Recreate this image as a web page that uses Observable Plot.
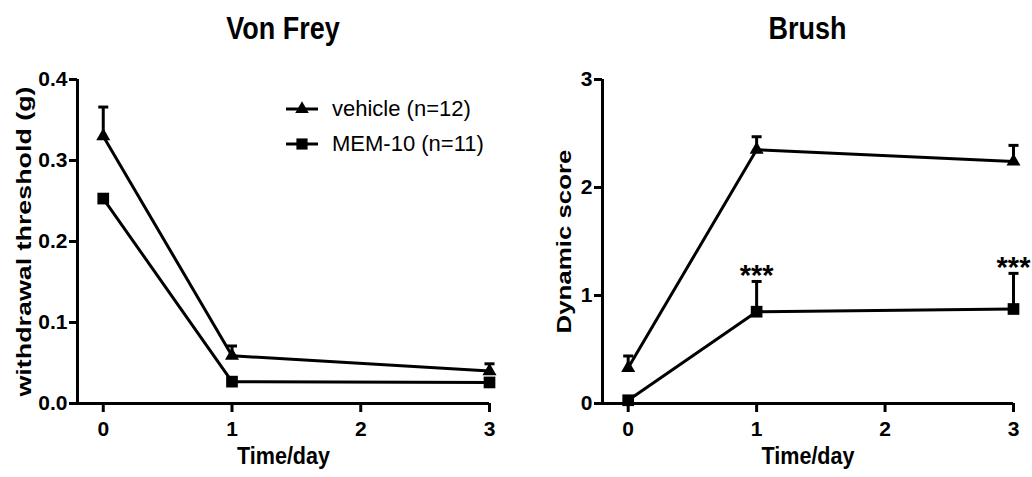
<!DOCTYPE html>
<html><head><meta charset="utf-8">
<script src="https://cdn.jsdelivr.net/npm/d3@7"></script>
<script src="https://cdn.jsdelivr.net/npm/@observablehq/plot@0.6"></script>
<style>
body{margin:0;background:#fff;}
#wrap{position:relative;width:1032px;height:477px;background:#fff;font-family:"Liberation Sans",Arial,Helvetica,sans-serif;color:#000;overflow:hidden}
.title{position:absolute;top:12px;text-align:center;font-weight:bold;font-size:31px;line-height:34px;transform:scaleX(0.87)}
.panel{position:absolute;top:55px}
#legend{position:absolute;left:286px;top:91px;font-size:22px}
.row{display:flex;align-items:center;height:35px}
.row svg{margin-right:14px}
</style></head>
<body><div id="wrap">
<div class="title" style="left:77px;width:412px">Von Frey</div>
<div class="title" style="left:602px;width:411px">Brush</div>
<div class="panel" id="left" style="left:0"></div>
<div class="panel" id="right" style="left:516px"></div>
<div id="legend"></div>
</div>
<script>
const days = [0, 1, 3];
const xTicks = [0, 1, 2, 3];
const xLabel = "Time/day";
const seriesNames = ["vehicle (n=12)", "MEM-10 (n=11)"];

const vfYLabel = "withdrawal threshold (g)";
const vfTicks = [0, 0.1, 0.2, 0.3, 0.4];
const vfVehicle = [0.33, 0.059, 0.04];
const vfVehicleSem = [0.036, 0.012, 0.009];
const vfMem = [0.253, 0.027, 0.026];
const vfMemSem = [0.005, 0.003, 0.003];

const brYLabel = "Dynamic score";
const brTicks = [0, 1, 2, 3];
const brVehicle = [0.33, 2.35, 2.24];
const brVehicleSem = [0.11, 0.12, 0.15];
const brMem = [0.03, 0.85, 0.875];
const brMemSem = [0.03, 0.28, 0.33];
const brStars = ["", "***", "***"];

const FONT = "'Liberation Sans', Arial, Helvetica, sans-serif";
const cap = {draw(ctx) { ctx.moveTo(-5, 0); ctx.lineTo(5, 0); }};

function fitText(svg, content, length) {
  d3.select(svg).selectAll("text")
    .filter(function() { return this.textContent === content; })
    .attr("textLength", length).attr("lengthAdjust", "spacingAndGlyphs");
}

function panel(o) {
  const rows = [];
  days.forEach((d, i) => {
    rows.push({day: d, series: seriesNames[0], sym: "triangle", mean: o.vehicle[i], upper: o.vehicle[i] + o.vehicleSem[i], star: ""});
    rows.push({day: d, series: seriesNames[1], sym: "square", mean: o.mem[i], upper: o.mem[i] + o.memSem[i], star: o.stars ? o.stars[i] : ""});
  });
  const svg = Plot.plot({
    width: 516, height: 422,
    marginLeft: o.marginLeft, marginRight: o.marginRight, marginTop: 24, marginBottom: 74,
    x: {domain: o.xDomain},
    y: {domain: [o.yTicks[0], o.yTicks[o.yTicks.length - 1]]},
    style: {fontFamily: FONT, fontWeight: "bold", fontSize: "21px", color: "black", background: "white", overflow: "visible"},
    marks: [
      Plot.ruleY([o.yTicks[0]], {strokeWidth: 3, stroke: "black"}),
      Plot.ruleX([o.xDomain[0]], {strokeWidth: 3, stroke: "black"}),
      Plot.axisX({ticks: xTicks, tickFormat: d3.format("d"), tickSize: 9, tickPadding: 9, strokeWidth: 3, fontSize: 21, fontWeight: "bold", label: null}),
      Plot.axisY({ticks: o.yTicks, tickFormat: o.yFormat, tickSize: 8, tickPadding: 2, strokeWidth: 3, fontSize: 21, fontWeight: "bold", label: null}),
      Plot.text([xLabel], {frameAnchor: "bottom", dy: 60, fontSize: 23, fontWeight: "bold"}),
      Plot.text([o.yLabel], {frameAnchor: "left", textAnchor: "middle", rotate: -90, dx: o.yLabelDx, fontSize: 21, fontWeight: "bold"}),
      Plot.line(rows, {x: "day", y: "mean", z: "series", stroke: "black", strokeWidth: 3}),
      Plot.ruleX(rows, {x: "day", y1: "mean", y2: "upper", stroke: "black", strokeWidth: 3}),
      Plot.dot(rows, {x: "day", y: "upper", symbol: cap, stroke: "black", strokeWidth: 3, fill: "none"}),
      Plot.dot(rows.filter(d => d.sym === "triangle"), {x: "day", y: "mean", symbol: "triangle", r: 5.2, fill: "black", stroke: "none"}),
      Plot.dot(rows.filter(d => d.sym === "square"), {x: "day", y: "mean", symbol: "square", r: 6.6, fill: "black", stroke: "none"}),
      Plot.text(rows.filter(d => d.star), {x: "day", y: "upper", text: "star", lineAnchor: "bottom", dy: 4, fontSize: 29, fontWeight: "bold"})
    ]
  });
  d3.select(svg).selectAll('g[aria-label$="tick label"]').attr("font-size", 21).attr("font-weight", "bold");
  fitText(svg, o.yLabel, o.yLabelLength);
  fitText(svg, xLabel, 93);
  return svg;
}

document.getElementById("left").append(panel({
  vehicle: vfVehicle, vehicleSem: vfVehicleSem, mem: vfMem, memSem: vfMemSem, stars: null,
  yTicks: vfTicks, yFormat: d3.format(".1f"), xDomain: [-0.2, 3],
  yLabel: vfYLabel, yLabelDx: -53, yLabelLength: 310, marginLeft: 77, marginRight: 27
}));
document.getElementById("right").append(panel({
  vehicle: brVehicle, vehicleSem: brVehicleSem, mem: brMem, memSem: brMemSem, stars: brStars,
  yTicks: brTicks, yFormat: d3.format("d"), xDomain: [-0.2, 3],
  yLabel: brYLabel, yLabelDx: -38, yLabelLength: 184, marginLeft: 86, marginRight: 19
}));

const legend = d3.select("#legend");
const legendSymbols = [d3.symbol(d3.symbolTriangle, 80), d3.symbol(d3.symbolSquare, 125)];
seriesNames.forEach((name, i) => {
  const row = legend.append("div").attr("class", "row");
  const s = row.append("svg").attr("width", 32).attr("height", 16);
  s.append("line").attr("x1", 0).attr("x2", 32).attr("y1", 8).attr("y2", 8).attr("stroke", "black").attr("stroke-width", 3);
  s.append("path").attr("transform", "translate(16,8)").attr("d", legendSymbols[i]()).attr("fill", "black");
  row.append("span").text(name);
});
</script>
</body></html>
